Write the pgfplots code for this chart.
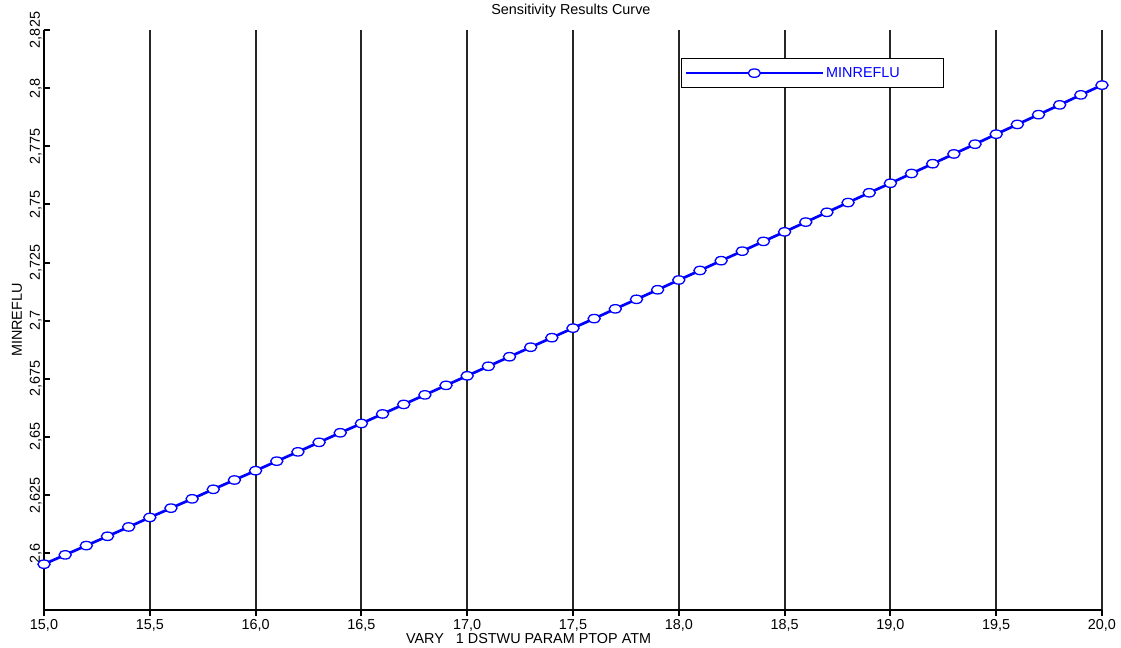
\documentclass[border=0pt]{standalone}
\usepackage{pgfplots}
\pgfplotsset{compat=1.18}
\usepackage{fontspec}
\setmainfont{Liberation Sans}

\definecolor{curveblue}{RGB}{0,0,255}
\newcommand{\chartfont}{\fontsize{14.4bp}{16bp}\selectfont}

\begin{document}
\begin{tikzpicture}
\begin{axis}[
  name=ax,
  scale only axis,
  width=1058bp, height=580bp,
  xmin=15, xmax=20,
  ymin=2.5756, ymax=2.825,
  axis x line=bottom, axis y line=left,
  axis line style={-, line width=2bp, black},
  xtick={15,15.5,...,20.01},
  ytick={2.6,2.625,2.65,2.675,2.7,2.725,2.75,2.775,2.8,2.825},
  xtick align=outside, ytick align=inside,
  major tick length=6bp,
  tick style={line width=2bp, black},
  xmajorgrids,
  grid style={line width=2bp, black!85},
  /pgf/number format/assume math mode=true,
  tick label style={font=\chartfont},
  label style={font=\chartfont},
  xticklabel style={/pgf/number format/.cd, fixed, fixed zerofill, precision=1, use comma},
  yticklabel style={/pgf/number format/.cd, fixed, precision=3, use comma,
     /tikz/.cd, rotate=90, anchor=south, inner sep=2bp},
  scaled y ticks=false,
  title={Sensitivity Results Curve},
  title style={at={(axis description cs:0.498,1.0224)}, anchor=center, font=\chartfont},
  xlabel={VARY\ \ \ 1 DSTWU PARAM PTOP ATM},
  xlabel style={at={(axis description cs:0.458,-0.05)}, anchor=center},
  ylabel={MINREFLU},
  ylabel style={at={(axis description cs:-0.0255,0.5)}, anchor=center},
  legend style={at={(axis description cs:0.602,0.952)}, anchor=north west,
     draw=black, line width=1.2bp, text=curveblue, inner xsep=3bp, inner ysep=7bp,
     font=\chartfont},
  legend image code/.code={%
     \draw[mark repeat=2, mark phase=2, #1] plot coordinates {(0bp,0bp) (68.5bp,0bp) (137bp,0bp)};},
  clip=false,
]
\addplot[color=curveblue, line width=2.7bp, mark=*, mark size=4.2bp,
  mark options={xscale=1.45, fill=white, draw=curveblue, line width=1.3bp, solid}]
  coordinates {
  (15.0,2.5953) (15.1,2.5993) (15.2,2.6033) (15.3,2.6073) (15.4,2.6113)
  (15.5,2.6154) (15.6,2.6194) (15.7,2.6234) (15.8,2.6275) (15.9,2.6315)
  (16.0,2.6355) (16.1,2.6396) (16.2,2.6436) (16.3,2.6477) (16.4,2.6518)
  (16.5,2.6558) (16.6,2.6599) (16.7,2.6640) (16.8,2.6681) (16.9,2.6722)
  (17.0,2.6763) (17.1,2.6804) (17.2,2.6845) (17.3,2.6886) (17.4,2.6927)
  (17.5,2.6968) (17.6,2.7009) (17.7,2.7051) (17.8,2.7092) (17.9,2.7133)
  (18.0,2.7175) (18.1,2.7216) (18.2,2.7258) (18.3,2.7299) (18.4,2.7341)
  (18.5,2.7382) (18.6,2.7424) (18.7,2.7466) (18.8,2.7508) (18.9,2.7550)
  (19.0,2.7591) (19.1,2.7633) (19.2,2.7675) (19.3,2.7717) (19.4,2.7759)
  (19.5,2.7802) (19.6,2.7844) (19.7,2.7886) (19.8,2.7928) (19.9,2.7971)
  (20.0,2.8013)
  };
\addlegendentry{MINREFLU\rule{39bp}{0bp}}
\end{axis}
\path (ax.south west) ++(-44bp,-38bp) rectangle ++(1121bp,648bp);
\end{tikzpicture}
\end{document}
